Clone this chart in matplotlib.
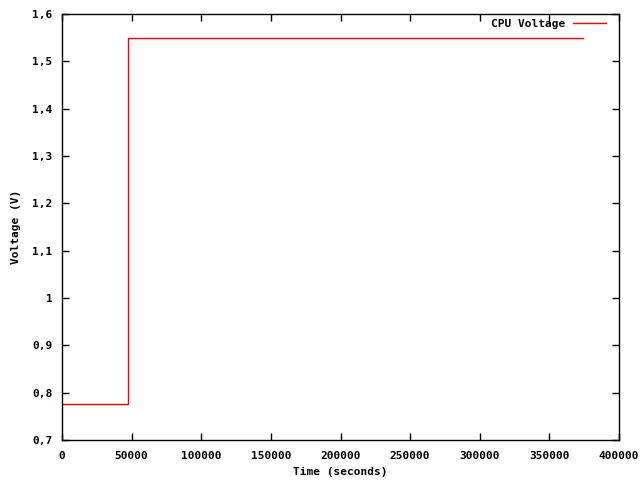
import matplotlib
matplotlib.use("Agg")
import matplotlib.pyplot as plt
from matplotlib.ticker import FuncFormatter

# CPU voltage samples (step change)
times = [0, 47400, 374000]
volts = [0.776, 1.55, 1.55]

plt.rcParams['font.family'] = 'DejaVu Sans Mono'
plt.rcParams['font.weight'] = 'bold'
plt.rcParams['font.size'] = 8

fig = plt.figure(figsize=(6.4, 4.8), dpi=100)
ax = fig.add_axes([62/640, 40/480, 557/640, 426/480])

ax.plot(times, volts, drawstyle='steps-post', color='red', lw=1, label='CPU Voltage')

ax.set_xlim(0, 400000)
ax.set_ylim(0.7, 1.6)
ax.set_xticks(range(0, 400001, 50000))
ax.set_yticks([0.7 + 0.1 * i for i in range(10)])
ax.yaxis.set_major_formatter(FuncFormatter(lambda v, p: ('%g' % round(v, 2)).replace('.', ',')))
ax.tick_params(direction='in', top=True, right=True, length=5, width=1)
ax.tick_params(axis='x', pad=8)
ax.tick_params(axis='y', pad=7)
for s in ax.spines.values():
    s.set_linewidth(1)

ax.set_xlabel('Time (seconds)', fontweight='bold', labelpad=4)
ax.set_ylabel('Voltage (V)', fontweight='bold', labelpad=8)

ax.legend(loc='upper right', frameon=False, markerfirst=False, handlelength=3.0,
          borderaxespad=0.3, handletextpad=0.7,
          bbox_to_anchor=(1 - 5/557, 1 + 3/426))

fig.savefig('out.png', dpi=100)
